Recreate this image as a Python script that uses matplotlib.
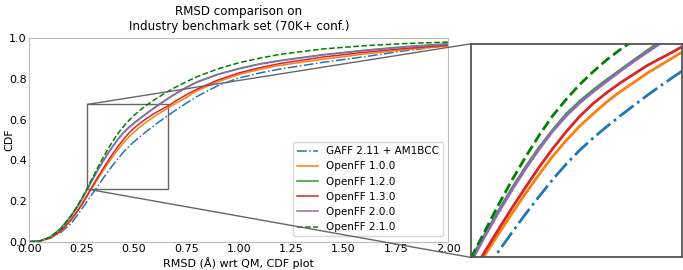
import numpy as np
import matplotlib
matplotlib.use('Agg')
import matplotlib.pyplot as plt
from mpl_toolkits.axes_grid1.inset_locator import mark_inset

# === DATA (CDF values) ===
rmsd = [0.0, 0.05, 0.1, 0.15, 0.2, 0.225, 0.25, 0.275, 0.3, 0.325, 0.35, 0.375,
        0.4, 0.425, 0.45, 0.475, 0.5, 0.525, 0.55, 0.575, 0.6, 0.625, 0.65, 0.675,
        0.7, 0.75, 0.8, 0.9, 1.0, 1.1, 1.2, 1.4, 1.6, 1.8, 2.0]

gaff_211 = [0.0, 0.003, 0.018, 0.045, 0.090, 0.124, 0.160, 0.197, 0.234, 0.271, 0.308, 0.344,
            0.378, 0.411, 0.441, 0.468, 0.492, 0.514, 0.535, 0.555, 0.575, 0.594, 0.612, 0.630,
            0.648, 0.682, 0.714, 0.768, 0.805, 0.830, 0.850, 0.882, 0.910, 0.940, 0.965]
openff_100 = [0.0, 0.003, 0.018, 0.050, 0.105, 0.140, 0.178, 0.220, 0.264, 0.305, 0.345, 0.384,
              0.421, 0.456, 0.487, 0.515, 0.539, 0.562, 0.582, 0.600, 0.618, 0.634, 0.650, 0.666,
              0.681, 0.710, 0.742, 0.787, 0.822, 0.848, 0.868, 0.897, 0.923, 0.945, 0.963]
openff_120 = [0.0, 0.004, 0.024, 0.066, 0.130, 0.168, 0.210, 0.257, 0.304, 0.350, 0.394, 0.435,
              0.473, 0.507, 0.538, 0.563, 0.585, 0.605, 0.624, 0.643, 0.662, 0.680, 0.697, 0.714,
              0.730, 0.760, 0.786, 0.824, 0.852, 0.875, 0.892, 0.920, 0.942, 0.960, 0.974]
openff_130 = [0.0, 0.003, 0.019, 0.052, 0.110, 0.145, 0.184, 0.227, 0.271, 0.314, 0.356, 0.396,
              0.435, 0.471, 0.504, 0.534, 0.559, 0.580, 0.599, 0.616, 0.633, 0.647, 0.661, 0.676,
              0.693, 0.723, 0.750, 0.795, 0.830, 0.856, 0.877, 0.908, 0.932, 0.951, 0.966]
openff_200 = [0.0, 0.004, 0.022, 0.062, 0.125, 0.163, 0.205, 0.252, 0.301, 0.347, 0.391, 0.432,
              0.470, 0.505, 0.535, 0.560, 0.582, 0.602, 0.622, 0.641, 0.659, 0.677, 0.695, 0.712,
              0.728, 0.758, 0.784, 0.822, 0.850, 0.873, 0.890, 0.918, 0.940, 0.958, 0.972]
openff_210 = [0.0, 0.003, 0.022, 0.062, 0.128, 0.168, 0.212, 0.260, 0.311, 0.362, 0.410, 0.455,
              0.497, 0.535, 0.567, 0.596, 0.621, 0.644, 0.664, 0.682, 0.700, 0.716, 0.732, 0.747,
              0.761, 0.787, 0.811, 0.850, 0.880, 0.903, 0.922, 0.948, 0.964, 0.975, 0.982]

series = [
    ('GAFF 2.11 + AM1BCC', gaff_211, 'tab:blue', '-.'),
    ('OpenFF 1.0.0', openff_100, 'tab:orange', '-'),
    ('OpenFF 1.2.0', openff_120, 'tab:green', '-'),
    ('OpenFF 1.3.0', openff_130, 'tab:red', '-'),
    ('OpenFF 2.0.0', openff_200, 'tab:purple', '-'),
    ('OpenFF 2.1.0', openff_210, 'green', '--'),
]

# zoom window
x1, x2 = 0.275, 0.663
y1, y2 = 0.259, 0.675

# === PLOTTING ===
plt.rcParams['font.size'] = 8
fig = plt.figure(figsize=(6.83, 2.7), dpi=100)
ax = fig.add_axes([0.0429, 0.1048, 0.6135, 0.753])
axins = fig.add_axes([0.6903, 0.0463, 0.3078, 0.7918])

for label, vals, color, ls in series:
    ax.plot(rmsd, vals, color=color, ls=ls, lw=1.1, label=label)
    axins.plot(rmsd, vals, color=color, ls=ls, lw=2.0)

ax.set_xlim(0, 2)
ax.set_ylim(0, 1)
ax.set_xticks(np.arange(0, 2.01, 0.25))
ax.set_yticks(np.arange(0, 1.01, 0.2))
ax.tick_params(length=0, pad=2)
for s in ax.spines.values():
    s.set_color('#bbbbbb')
ax.set_xlabel('RMSD (Å) wrt QM, CDF plot', labelpad=2)
ax.set_ylabel('CDF')
ax.yaxis.set_label_coords(-0.036, 0.5)
ax.set_title('RMSD comparison on\nIndustry benchmark set (70K+ conf.)', fontsize=8.6, pad=6)
ax.legend(loc='lower right', fontsize=7.5)

axins.set_xlim(x1, x2)
axins.set_ylim(y1, y2)
axins.set_xticks([])
axins.set_yticks([])
for s in axins.spines.values():
    s.set_color('#555555')
    s.set_linewidth(1.3)

mark_inset(ax, axins, loc1=2, loc2=3, fc='none', ec='0.4', lw=1.0)

fig.savefig('out.png', dpi=100)
